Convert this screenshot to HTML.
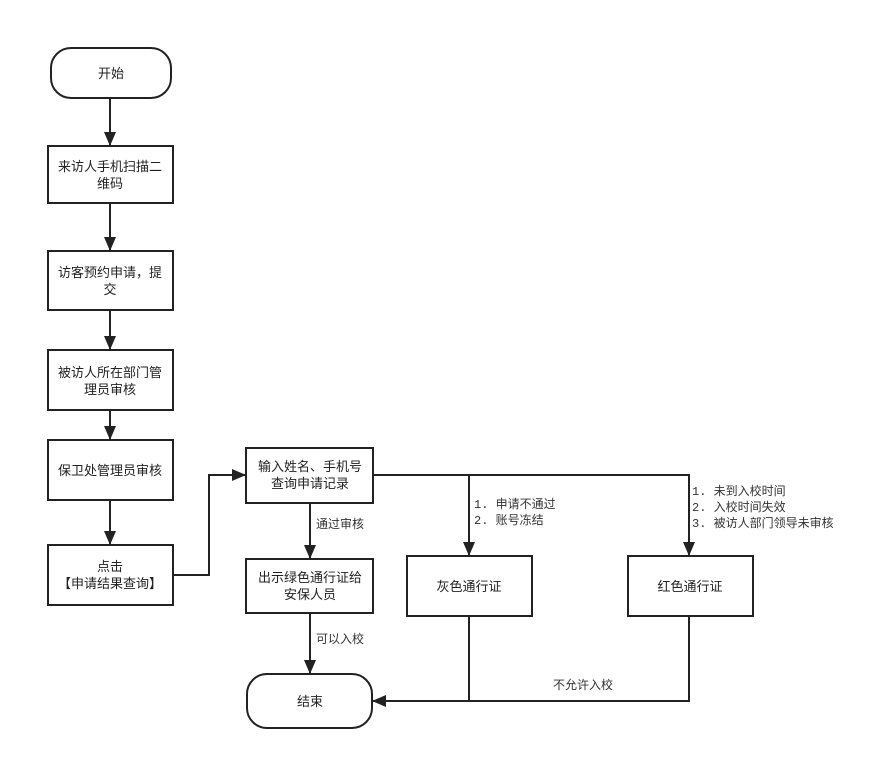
<!DOCTYPE html>
<html><head><meta charset="utf-8"><style>
html,body{margin:0;padding:0;background:#fff;}
svg text{font-family:"Liberation Sans","Noto Sans CJK SC",sans-serif;font-size:13px;fill:#222;}
.l{font-size:12px;fill:#333;font-family:"Liberation Mono","Noto Sans CJK SC",monospace;}
</style></head><body>
<svg width="872" height="760" viewBox="0 0 872 760" xmlns="http://www.w3.org/2000/svg">
<defs><marker id="a" markerWidth="14" markerHeight="12" refX="13" refY="6" orient="auto" markerUnits="userSpaceOnUse"><path d="M0,0 L14,6 L0,12 z" fill="#222"/></marker></defs>
<g fill="#fff" stroke="#222" stroke-width="2">
<rect x="51" y="48" width="120" height="50" rx="20"/>
<rect x="48" y="146" width="125" height="57"/>
<rect x="48" y="251" width="125" height="59"/>
<rect x="48" y="350" width="125" height="60"/>
<rect x="48" y="440" width="125" height="60"/>
<rect x="48" y="545" width="125" height="60"/>
<rect x="246" y="448" width="127" height="55"/>
<rect x="246" y="559" width="127" height="54"/>
<rect x="247" y="674" width="125" height="54" rx="20"/>
<rect x="407" y="556" width="125" height="60"/>
<rect x="628" y="556" width="125" height="60"/>
</g>
<g fill="none" stroke="#222" stroke-width="2">
<line x1="110" y1="98" x2="110" y2="145" marker-end="url(#a)"/>
<line x1="110" y1="203" x2="110" y2="250" marker-end="url(#a)"/>
<line x1="110" y1="310" x2="110" y2="349" marker-end="url(#a)"/>
<line x1="110" y1="410" x2="110" y2="439" marker-end="url(#a)"/>
<line x1="110" y1="500" x2="110" y2="544" marker-end="url(#a)"/>
<polyline points="173,575 209,575 209,475 245,475" marker-end="url(#a)"/>
<line x1="310" y1="503" x2="310" y2="558" marker-end="url(#a)"/>
<line x1="310" y1="613" x2="310" y2="673" marker-end="url(#a)"/>
<polyline points="373,475 689,475 689,555" marker-end="url(#a)"/>
<line x1="469" y1="475" x2="469" y2="555" marker-end="url(#a)"/>
<line x1="469" y1="616" x2="469" y2="701"/>
<polyline points="689,616 689,701 373,701" marker-end="url(#a)"/>
</g>
<g text-anchor="middle">
<text x="111" y="78">开始</text>
<text x="110" y="171">来访人手机扫描二</text><text x="110" y="188">维码</text>
<text x="110" y="277">访客预约申请，提</text><text x="110" y="294">交</text>
<text x="110" y="377">被访人所在部门管</text><text x="110" y="394">理员审核</text>
<text x="110" y="475">保卫处管理员审核</text>
<text x="110" y="571">点击</text><text x="110" y="588">【申请结果查询】</text>
<text x="310" y="471">输入姓名、手机号</text><text x="310" y="488">查询申请记录</text>
<text x="310" y="582">出示绿色通行证给</text><text x="310" y="599">安保人员</text>
<text x="310" y="706">结束</text>
<text x="469" y="591">灰色通行证</text>
<text x="690" y="591">红色通行证</text>
</g>
<text class="l" x="316" y="528">通过审核</text>
<text class="l" x="316" y="643">可以入校</text>
<text class="l" x="474" y="508">1. 申请不通过</text>
<text class="l" x="474" y="524">2. 账号冻结</text>
<text class="l" x="692" y="495">1. 未到入校时间</text>
<text class="l" x="692" y="511">2. 入校时间失效</text>
<text class="l" x="692" y="527">3. 被访人部门领导未审核</text>
<text class="l" x="553" y="689">不允许入校</text>
</svg>
</body></html>
